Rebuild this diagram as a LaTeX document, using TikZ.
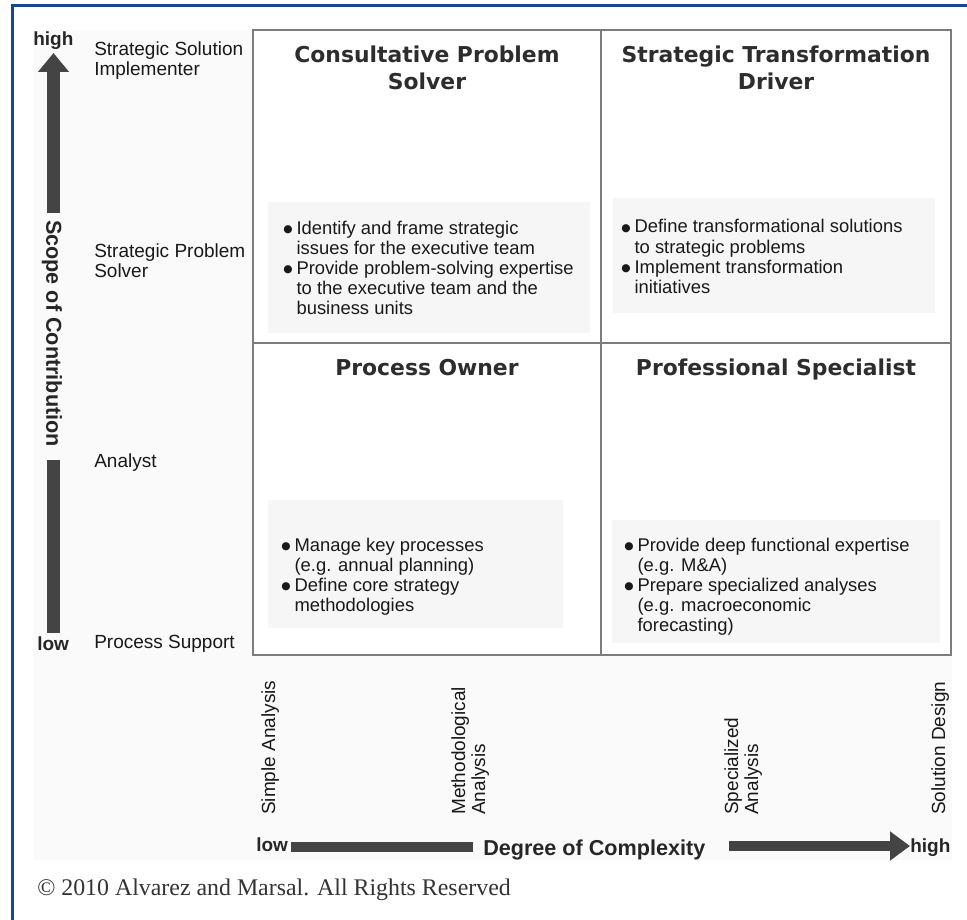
\documentclass[tikz,border=0pt]{standalone}
\usepackage{fontspec}
\setmainfont{Liberation Sans}
\newfontfamily\titlefont{DejaVu Sans}
\newfontfamily\seriffont{Liberation Serif}
\usetikzlibrary{arrows.meta}
\definecolor{frameblue}{RGB}{22,72,145}
\definecolor{gridgray}{RGB}{125,125,125}
\definecolor{arrowgray}{RGB}{68,68,68}
\definecolor{txt}{RGB}{25,25,25}
\definecolor{ttl}{RGB}{45,45,45}
\definecolor{panel}{RGB}{246,246,246}
\definecolor{bgfaint}{RGB}{250,250,250}
\newcommand{\bdot}{\raisebox{1.2pt}{\titlefont\fontsize{8}{9}\selectfont ●}}
\begin{document}
\begin{tikzpicture}[x=0.75pt,y=-0.75pt,
  lbl/.style={inner sep=0pt, anchor=base west, text=txt, font=\fontsize{14.25}{15}\selectfont},
  ttlnode/.style={inner sep=0pt, anchor=base, text=ttl, font=\titlefont\bfseries\fontsize{16.4}{20.25}\selectfont},
  bul/.style={inner sep=0pt, anchor=base west, text=txt, font=\fontsize{13.8}{15}\selectfont},
  panelbox/.style={fill=panel, draw=none},
  axisbold/.style={inner sep=0pt, text=black!85, font=\bfseries\fontsize{16.2}{18}\selectfont},
  hilo/.style={inner sep=0pt, anchor=base west, text=black!85, font=\bfseries\fontsize{14.25}{15}\selectfont},
  vshaft/.style={draw=arrowgray, line width=9.75pt},
  hshaft/.style={draw=arrowgray, line width=7.5pt},
  gridline/.style={draw=gridgray, line width=1.8pt}
]
\useasboundingbox (0,0) rectangle (967,920);
\fill[white] (0,0) rectangle (967,920);
\fill[bgfaint] (33,30) rectangle (952,860);
\fill[white] (253,30) rectangle (951,655);

% panels
\fill[panelbox] (268,202) rectangle (590,333);
\fill[panelbox] (613,198) rectangle (935,313);
\fill[panelbox] (268,500) rectangle (563,628);
\fill[panelbox] (612,520) rectangle (940,643);

% grid
\draw[gridline] (253,30) rectangle (951,655);
\draw[gridline] (601,30) -- (601,655);
\draw[gridline] (253,343) -- (951,343);

% frame
\draw[frameblue, line width=2.25pt] (12.5,920) -- (12.5,5.5) -- (967,5.5);

% titles
\node[ttlnode] (t1) at (427,63) {\begin{tabular}[t]{@{}c@{}}Consultative Problem\\Solver\end{tabular}};
\node[ttlnode] (t2) at (776,63) {\begin{tabular}[t]{@{}c@{}}Strategic Transformation\\Driver\end{tabular}};
\node[ttlnode] (t3) at (427,375) {Process Owner};
\node[ttlnode] (t4) at (776,375) {Professional Specialist};

% bullet lists
\node[bul] (b1) at (283,234) {\begin{tabular}[t]{@{}l@{\hspace{3pt}}l@{}}
\bdot & Identify and frame strategic\\
 & issues for the executive team\\
\bdot & Provide problem-solving expertise\\
 & to the executive team and the\\
 & business units\end{tabular}};
\node[bul] (b2) at (621,233) {\begin{tabular}[t]{@{}l@{\hspace{3pt}}l@{}}
\bdot & Define transformational solutions\\
 & to strategic problems\\
\bdot & Implement transformation\\
 & initiatives\end{tabular}};
\node[bul] (b3) at (281,551) {\begin{tabular}[t]{@{}l@{\hspace{3pt}}l@{}}
\bdot & Manage key processes\\
 & (e.g. annual planning)\\
\bdot & Define core strategy\\
 & methodologies\end{tabular}};
\node[bul] (b4) at (624,551) {\begin{tabular}[t]{@{}l@{\hspace{3pt}}l@{}}
\bdot & Provide deep functional expertise\\
 & (e.g. M\&A)\\
\bdot & Prepare specialized analyses\\
 & (e.g. macroeconomic\\
 & forecasting)\end{tabular}};

% left labels
\node[lbl] (l1) at (94,56) {\begin{tabular}[t]{@{}l@{}}Strategic Solution\\Implementer\end{tabular}};
\node[lbl] (l2) at (94,257) {\begin{tabular}[t]{@{}l@{}}Strategic Problem\\Solver\end{tabular}};
\node[lbl] (l3) at (94,467) {Analyst};
\node[lbl] (l4) at (94,648) {Process Support};

% vertical axis
\node[hilo] (vhigh) at (33,46) {high};
\node[hilo] (vlow) at (37,650) {low};
\node[axisbold, rotate=-90] (scope) at (52,333.5) {Scope of Contribution};
\coordinate (vtip) at (53.5,53);
\coordinate (vup) at (53.5,213);
\coordinate (vdn1) at (53.5,460);
\coordinate (vdn2) at (53.5,633);
\draw[vshaft, -{Triangle[width=22.5pt,length=14.25pt]}] (vup) -- (vtip);
\draw[vshaft] (vdn1) -- (vdn2);

% bottom labels
\node[lbl, rotate=90] (s1) at (275,815) {Simple Analysis};
\node[lbl, rotate=90] (s2) at (465,815) {\begin{tabular}[t]{@{}l@{}}Methodological\\Analysis\end{tabular}};
\node[lbl, rotate=90] (s3) at (738,815) {\begin{tabular}[t]{@{}l@{}}Specialized\\Analysis\end{tabular}};
\node[lbl, rotate=90] (s4) at (945,815) {Solution Design};

% horizontal axis
\node[hilo] (hlow) at (256,851) {low};
\node[axisbold, anchor=base west] (deg) at (483,855) {Degree of Complexity};
\node[hilo] (hhigh) at (910,852) {high};
\coordinate (hl1) at (291,847);
\coordinate (hl2) at (473,847);
\coordinate (hr1) at (729,846);
\coordinate (hr2) at (910,846);
\draw[hshaft] (hl1) -- (hl2);
\draw[hshaft, -{Triangle[width=21pt,length=15pt]}] (hr1) -- (hr2);

% copyright
\node[inner sep=0pt, anchor=base west, text=black!80, font=\seriffont\fontsize{17.9}{20}\selectfont] (copy) at (37,895) {© 2010 Alvarez and Marsal. All Rights Reserved};
\end{tikzpicture}
\end{document}
